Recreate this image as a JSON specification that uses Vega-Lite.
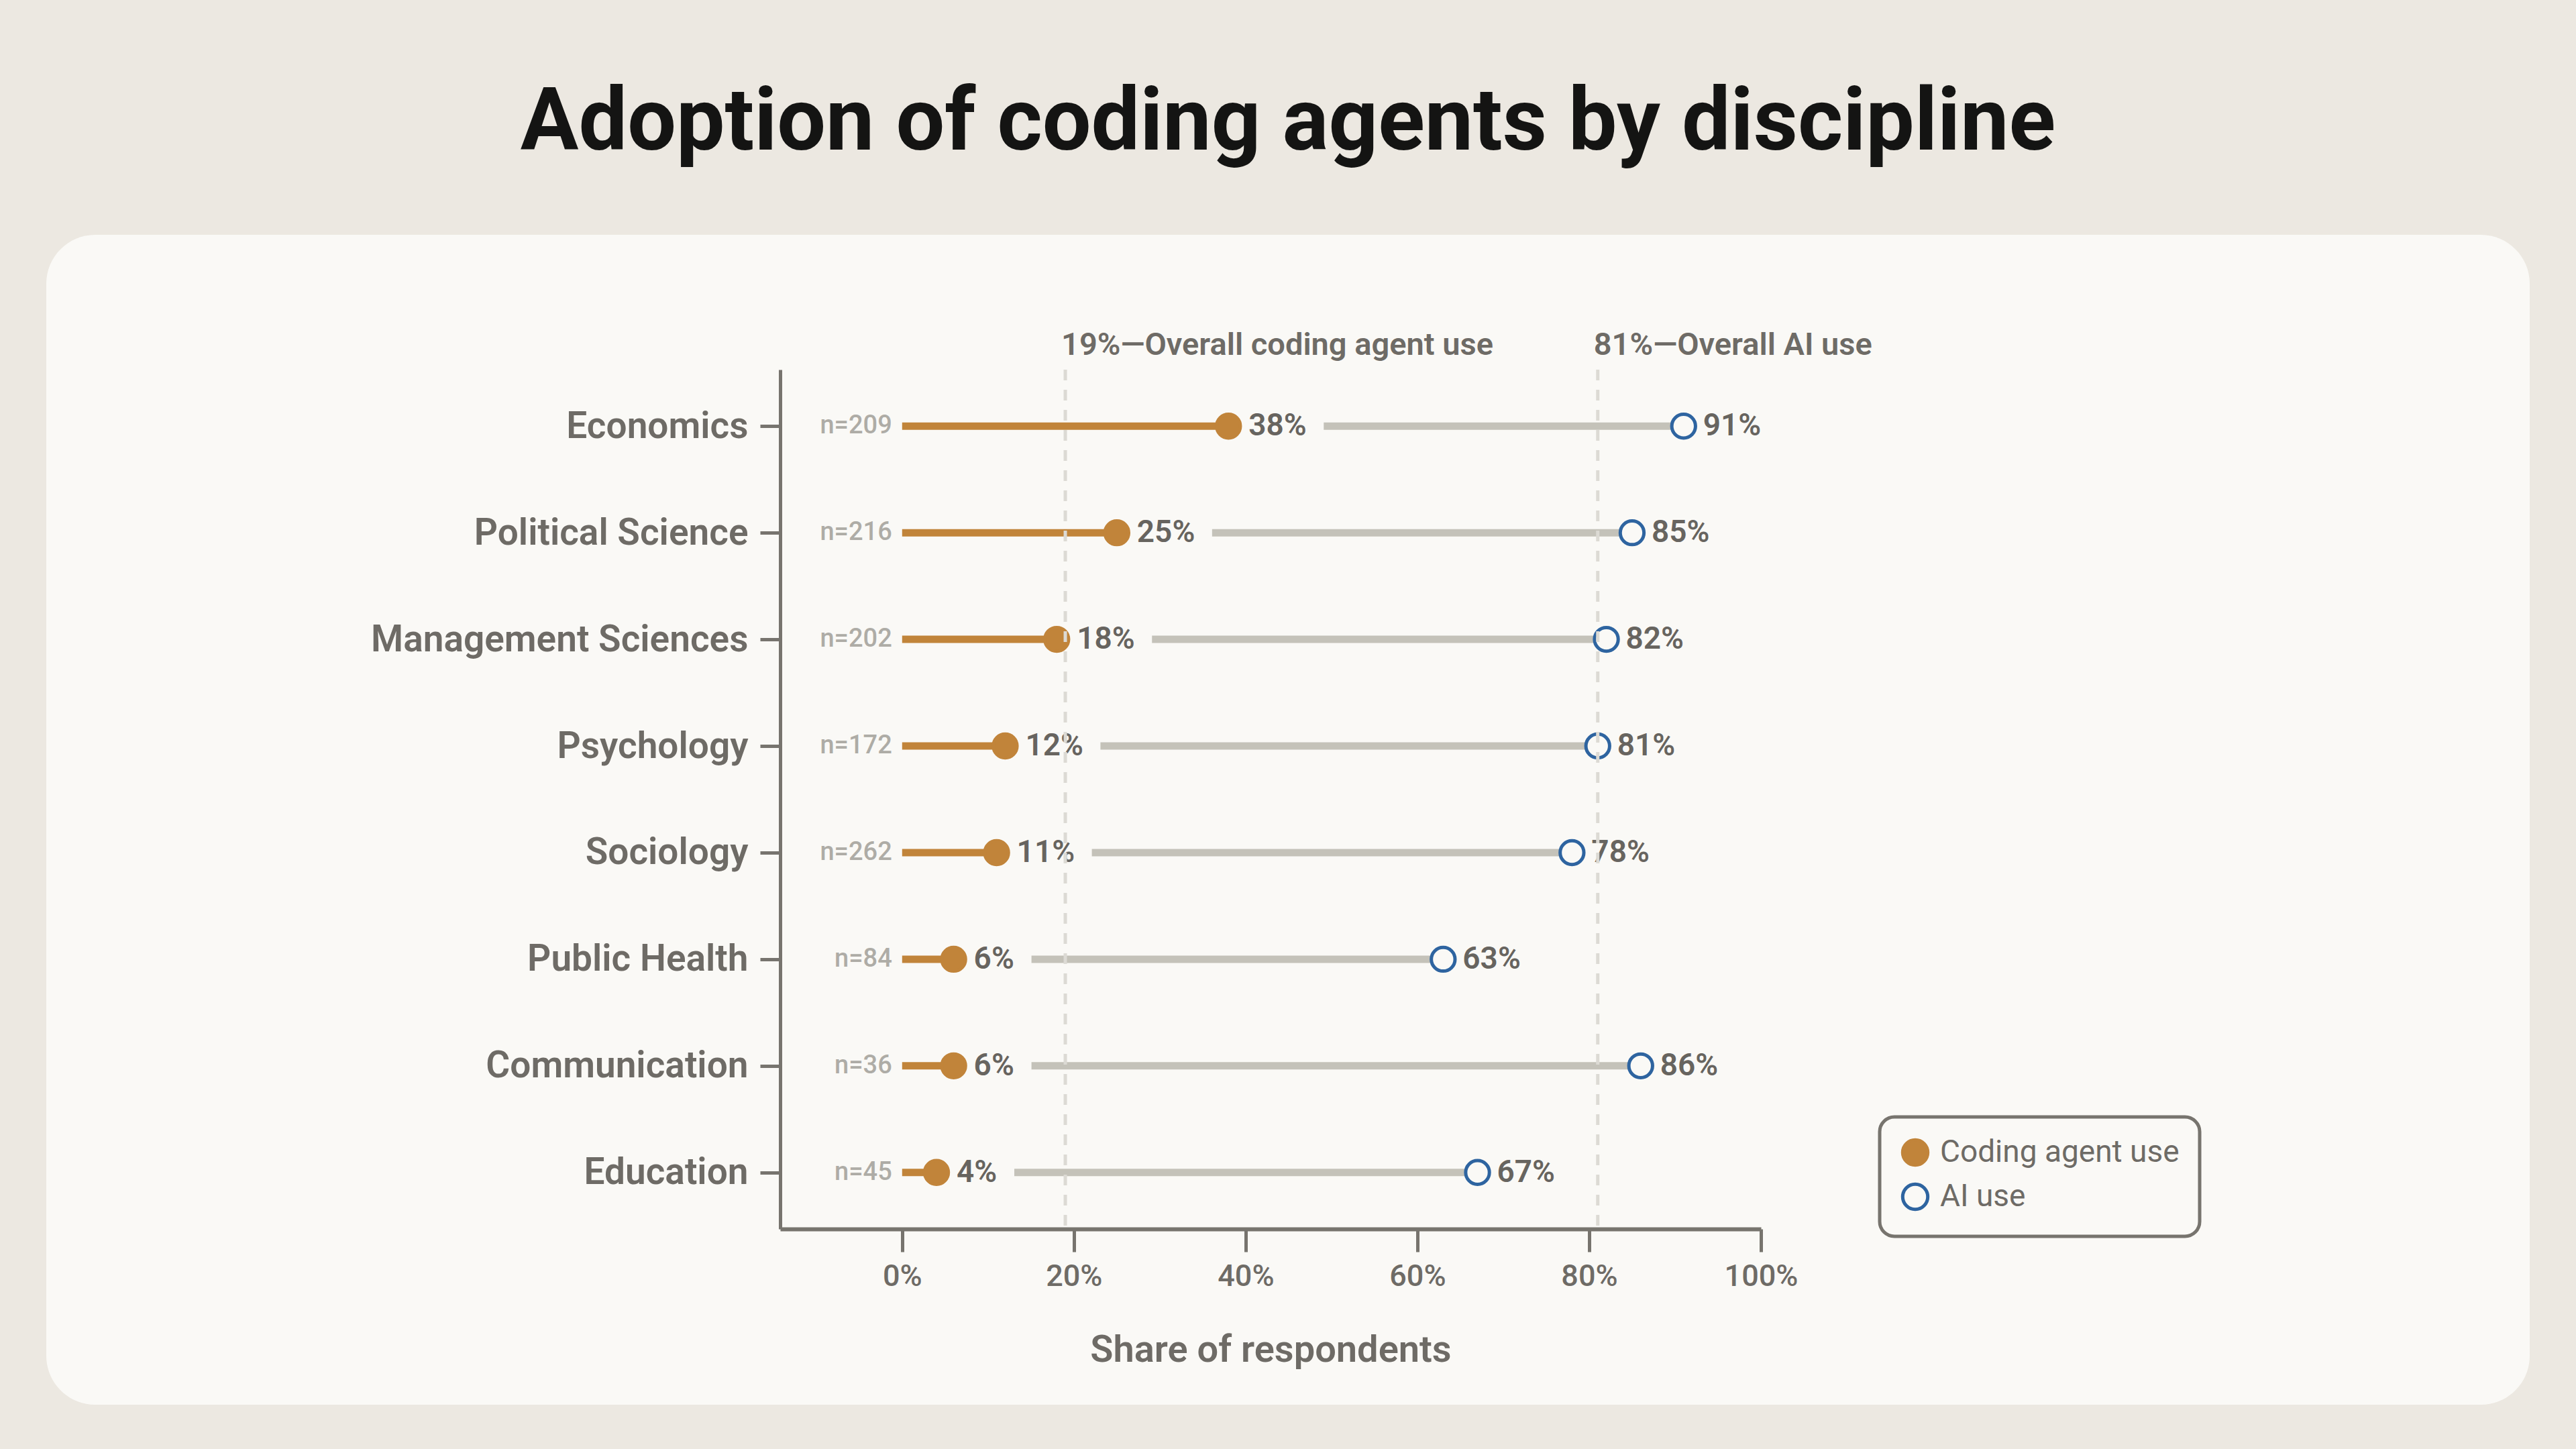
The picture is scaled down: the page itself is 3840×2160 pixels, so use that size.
{
  "$schema": "https://vega.github.io/schema/vega-lite/v6.json",
  "width": 3702,
  "height": 1744,
  "autosize": "none",
  "padding": {"left": 69, "top": 350, "right": 69, "bottom": 66},
  "background": "#ece8e1",
  "view": {"fill": "#faf9f6", "stroke": null, "cornerRadius": 73},
  "title": {
    "text": "Adoption of coding agents by discipline",
    "anchor": "middle",
    "font": "Roboto",
    "fontSize": 129,
    "fontWeight": 700,
    "color": "#141413",
    "baseline": "alphabetic",
    "offset": -2
  },
  "config": {
    "font": "Roboto",
    "legend": {
      "labelFont": "Roboto",
      "labelFontSize": 46,
      "labelColor": "#6e6b66",
      "labelLimit": 1000,
      "symbolStrokeWidth": 5,
      "symbolSize": 1400,
      "rowPadding": 8,
      "labelOffset": 14,
      "padding": 30,
      "strokeColor": "#77746e",
      "strokeWidth": 5,
      "cornerRadius": 22,
      "fillColor": "#faf9f6"
    }
  },
  "layer": [
    {
      "data": {
        "values": [
          {"discipline": "Economics", "n": 209, "coding": 0.38, "ai": 0.91},
          {"discipline": "Political Science", "n": 216, "coding": 0.25, "ai": 0.85},
          {"discipline": "Management Sciences", "n": 202, "coding": 0.18, "ai": 0.82},
          {"discipline": "Psychology", "n": 172, "coding": 0.12, "ai": 0.81},
          {"discipline": "Sociology", "n": 262, "coding": 0.11, "ai": 0.78},
          {"discipline": "Public Health", "n": 84, "coding": 0.06, "ai": 0.63},
          {"discipline": "Communication", "n": 36, "coding": 0.06, "ai": 0.86},
          {"discipline": "Education", "n": 45, "coding": 0.04, "ai": 0.67}
        ]
      },
      "encoding": {
        "y": {
          "field": "discipline",
          "type": "nominal",
          "sort": null,
          "scale": {
            "type": "point",
            "domain": ["Economics", "Political Science", "Management Sciences", "Psychology", "Sociology", "Public Health", "Communication", "Education"],
            "range": [201, 1482],
            "padding": 0.53
          },
          "axis": {
            "orient": "left",
            "offset": -1094,
            "title": null,
            "domainColor": "#77746e",
            "domainWidth": 5,
            "tickColor": "#77746e",
            "tickWidth": 5,
            "tickSize": 30,
            "labelFont": "Roboto",
            "labelFontSize": 55,
            "labelFontWeight": 600,
            "labelColor": "#6e6b66",
            "labelPadding": 18,
            "labelLimit": 1200,
            "grid": false
          }
        }
      },
      "layer": [
        {
          "transform": [{"filter": "datum.coding >= 0.1"}],
          "mark": {"type": "rule", "color": "#c4c2b9", "strokeWidth": 11, "xOffset": 142},
          "encoding": {
            "x": {
              "field": "coding",
              "type": "quantitative",
              "scale": {"domain": [-0.142, 1], "range": [1094, 2556], "nice": false, "zero": false},
              "axis": {
                "orient": "bottom",
                "offset": -262,
                "values": [0, 0.2, 0.4, 0.6, 0.8, 1],
                "format": ".0%",
                "labelFlush": false,
                "title": "Share of respondents",
                "titleFont": "Roboto",
                "titleFontSize": 56,
                "titleFontWeight": 600,
                "titleColor": "#6e6b66",
                "titlePadding": 60,
                "domainColor": "#77746e",
                "domainWidth": 6,
                "tickColor": "#77746e",
                "tickWidth": 5,
                "tickSize": 34,
                "labelFont": "Roboto",
                "labelFontSize": 45,
                "labelFontWeight": 500,
                "labelColor": "#6e6b66",
                "labelPadding": 14,
                "grid": false
              }
            },
            "x2": {"field": "ai"}
          }
        },
        {
          "transform": [{"filter": "datum.coding < 0.1"}],
          "mark": {"type": "rule", "color": "#c4c2b9", "strokeWidth": 11, "xOffset": 116},
          "encoding": {
            "x": {"field": "coding", "type": "quantitative"},
            "x2": {"field": "ai"}
          }
        },
        {
          "mark": {"type": "rule", "color": "#c1843a", "strokeWidth": 11},
          "encoding": {
            "x": {"field": "coding", "type": "quantitative"},
            "x2": {"datum": 0}
          }
        },
        {
          "transform": [{"fold": ["coding", "ai"], "as": ["series", "pct"]}],
          "mark": {"type": "point", "shape": "circle", "filled": true, "size": 1250, "strokeWidth": 5, "opacity": 1},
          "encoding": {
            "x": {"field": "pct", "type": "quantitative"},
            "fill": {
              "field": "series",
              "type": "nominal",
              "scale": {"domain": ["coding", "ai"], "range": ["#c1843a", "#faf9f6"]},
              "legend": {
                "orient": "none",
                "legendX": 2733,
                "legendY": 1315,
                "title": null,
                "labelExpr": "datum.label == 'coding' ? 'Coding agent use' : 'AI use'"
              }
            },
            "stroke": {
              "field": "series",
              "type": "nominal",
              "scale": {"domain": ["coding", "ai"], "range": ["#c1843a", "#2e64a0"]},
              "legend": {
                "orient": "none",
                "legendX": 2733,
                "legendY": 1315,
                "title": null,
                "labelExpr": "datum.label == 'coding' ? 'Coding agent use' : 'AI use'"
              }
            }
          }
        },
        {
          "mark": {"type": "text", "align": "left", "baseline": "middle", "dx": 30, "fontSize": 46, "fontWeight": 600, "color": "#67645f"},
          "encoding": {
            "x": {"field": "coding", "type": "quantitative"},
            "text": {"field": "coding", "type": "quantitative", "format": ".0%"}
          }
        },
        {
          "mark": {"type": "text", "align": "left", "baseline": "middle", "dx": 29, "fontSize": 46, "fontWeight": 600, "color": "#67645f"},
          "encoding": {
            "x": {"field": "ai", "type": "quantitative"},
            "text": {"field": "ai", "type": "quantitative", "format": ".0%"}
          }
        },
        {
          "mark": {"type": "text", "align": "right", "baseline": "middle", "dx": -15, "fontSize": 38, "fontWeight": 500, "color": "#aeaca6", "text": {"expr": "'n=' + datum.n"}},
          "encoding": {
            "x": {"datum": 0, "type": "quantitative"}
          }
        }
      ]
    },
    {
      "data": {
        "values": [
          {"v": 0.19, "label": "19%—Overall coding agent use"},
          {"v": 0.81, "label": "81%—Overall AI use"}
        ]
      },
      "encoding": {
        "x": {"field": "v", "type": "quantitative"},
        "y": {"datum": 0, "type": "quantitative", "scale": {"domain": [0, 1], "range": [201, 1482]}, "axis": null}
      },
      "layer": [
        {
          "mark": {"type": "rule", "color": "#dcdad4", "strokeWidth": 5, "strokeDash": [16, 14]},
          "encoding": {"y2": {"datum": 1}}
        },
        {
          "mark": {"type": "text", "align": "left", "baseline": "alphabetic", "dx": -6, "dy": -22, "fontSize": 47, "fontWeight": 600, "color": "#6e6b66"},
          "encoding": {"text": {"field": "label"}}
        }
      ]
    }
  ],
  "resolve": {"scale": {"y": "independent"}}
}
